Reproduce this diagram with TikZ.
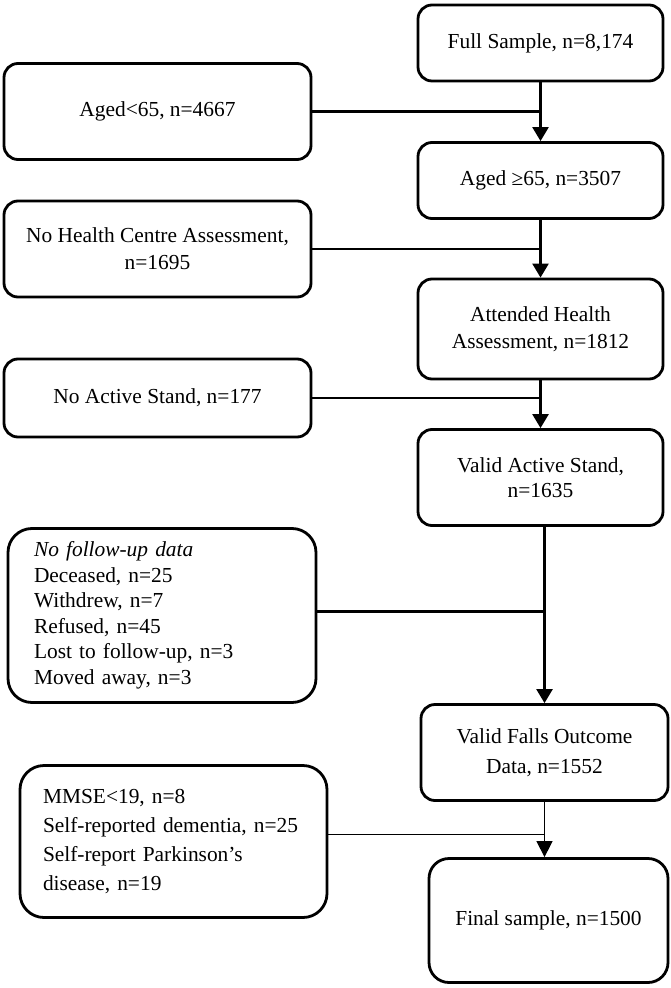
\documentclass[tikz,border=0pt]{standalone}
\usepackage{fontspec}
\setmainfont{Liberation Serif}
\usetikzlibrary{arrows.meta}

\begin{document}
\begin{tikzpicture}[
    x=0.5pt, y=-0.5pt,
    font=\fontsize{10.7}{13.5}\selectfont,
    stage/.style={draw, line width=1.4pt, rounded corners=7pt, align=center, inner sep=2pt, minimum width=122.5pt},
    excl/.style={draw, line width=1.4pt, rounded corners=7pt, align=center, inner sep=2pt, minimum width=153.5pt},
    flow/.style={-{Triangle[width=8pt,length=7pt]}, line width=1.2pt},
    exclline/.style={line width=1.2pt}
  ]
  \useasboundingbox (0,0) rectangle (670,988);

  % Main sample path
  \node[stage, minimum height=38pt] (full) at (540.5,43) {Full Sample, n=8,174};
  \node[stage, minimum height=38pt] (aged) at (540.5,180.5) {Aged ≥65, n=3507};
  \node[stage, minimum height=50pt] (attended) at (540.5,329) {Attended Health\\ Assessment, n=1812};
  \node[stage, minimum height=48pt, font=\fontsize{10.7}{12.75}\selectfont] (validas) at (540.5,477.5) {Valid Active Stand,\\ n=1635};
  \node[stage, minimum width=123.5pt, minimum height=48pt, font=\fontsize{10.7}{15}\selectfont] (falls) at (544.5,752.5) {Valid Falls Outcome\\ Data, n=1552};
  \node[stage, minimum width=119.5pt, minimum height=62pt, rounded corners=10pt] (final) at (548.5,920.5) {Final sample, n=1500};

  % Exclusions
  \node[excl, minimum height=48pt] (young) at (157.5,111.5) {Aged<65, n=4667};
  \node[excl, minimum height=48pt] (nohc) at (157.5,249) {No Health Centre Assessment,\\ n=1695};
  \node[excl, minimum height=39pt] (noas) at (157.5,398) {No Active Stand, n=177};
  \node[excl, align=left, rounded corners=12pt, inner xsep=13pt, text width=128pt, minimum height=87pt, font=\fontsize{10.7}{12.75}\selectfont] (nofollow) at (162,615.5)
    {\textit{No follow-up data}\\ Deceased, n=25\\ Withdrew, n=7\\ Refused, n=45\\ Lost to follow-up, n=3\\ Moved away, n=3};
  \node[excl, align=left, rounded corners=12pt, inner xsep=11.5pt, text width=130.5pt, minimum height=76pt, font=\fontsize{10.7}{14.5}\selectfont] (cogn) at (173.5,841.5)
    {MMSE<19, n=8\\ Self-reported dementia, n=25\\ Self-report Parkinson's\\ disease, n=19};

  % Flow arrows
  \draw[flow] (full) -- (aged);
  \draw[flow] (aged) -- (attended);
  \draw[flow] (attended) -- (validas);
  \draw[flow] (falls.north |- validas.south) -- (falls.north);
  \draw[-{Triangle[width=8pt,length=8pt]}, line width=0.7pt] (falls.south) -- (falls.south |- final.north);

  % Exclusion joins
  \draw[exclline] (young.east) -- (young.east -| full.south);
  \draw[exclline] (nohc.east) -- (nohc.east -| aged.south);
  \draw[exclline] (noas.east) -- (noas.east -| attended.south);
  \draw[exclline] ([yshift=2pt]nofollow.east) -- ([yshift=2pt]nofollow.east -| falls.north);
  \draw[line width=0.9pt] ([yshift=3.5pt]cogn.east) -- ([yshift=3.5pt]cogn.east -| falls.south);
\end{tikzpicture}
\end{document}
